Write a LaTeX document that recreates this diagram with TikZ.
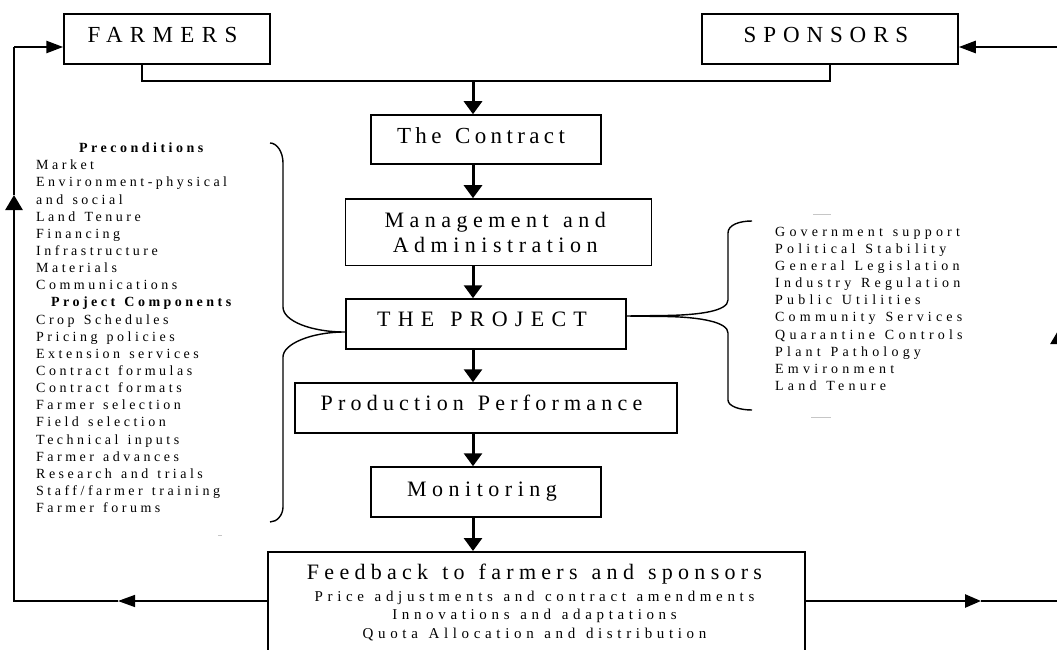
\documentclass[tikz,border=0pt]{standalone}
\usepackage{fontspec}
\setmainfont{Liberation Serif}[Ligatures=NoCommon]
\usetikzlibrary{arrows.meta}
\newdimen\lsws
\newcommand\lsfont[3]{\fontsize{#1}{#2}\selectfont\addfontfeatures{LetterSpace=#3}%
  \lsws=#3\fontdimen6\font\divide\lsws by 100\relax\advance\lsws by 0.4em\relax\spaceskip=\lsws\relax}
\newcommand\fixsp{\spaceskip=\lsws\relax}
\tikzset{
  box/.style={draw, line width=1.5pt, inner sep=0pt, align=center},
  conn/.style={line width=1.6pt},
  flowarrow/.style={line width=3pt, -{Triangle[length=13pt,width=18pt]}},
  thinloop/.style={line width=1.4pt},
  thickloop/.style={line width=2.6pt},
  harrow/.style={-{Triangle[length=17pt,width=12pt]}},
  varrow/.style={-{Triangle[length=15pt,width=17pt]}},
  brace/.style={line width=1.4pt},
  listtext/.style={anchor=base west, inner sep=0pt, align=left},
  artifact/.style={gray!45, line width=0.8pt}
}
\begin{document}
\begin{tikzpicture}[x=1pt,y=-1pt]
\useasboundingbox (0,0) rectangle (1057,650);
\fill[white] (0,0) rectangle (1057,650);
\clip (0,0) rectangle (1057,650);

% boxes
\node[box, minimum width=206pt, minimum height=50pt, text height=16pt, text depth=8pt, font={\lsfont{23}{27}{32}}] (farmers) at (167,39) {FARMERS\kern9pt};
\node[box, minimum width=256pt, minimum height=50pt, text height=16pt, text depth=8pt, font={\lsfont{23}{27}{30}}] (sponsors) at (830,39) {SPONSORS\kern8pt};
\node[box, minimum width=230pt, minimum height=49pt, text height=16pt, text depth=8.4pt, font={\lsfont{23}{27}{19}}] (contract) at (486,139.5) {The Contract\kern10pt};
\node[box, minimum width=306pt, minimum height=66.7pt, font={\lsfont{22}{25}{25}}] (mgmt) at (498.7,232.3) {Management and\kern7pt\\Administration\kern7pt};
\node[box, minimum width=280pt, minimum height=50pt, text height=16pt, text depth=10.6pt, font={\lsfont{22}{26}{33}}] (project) at (486,324) {THE PROJECT\kern8pt};
\node[box, minimum width=382pt, minimum height=50pt, text height=16pt, text depth=10.6pt, font={\lsfont{22}{26}{23.6}}] (production) at (486,408) {Production Performance\kern9pt};
\node[box, minimum width=230pt, minimum height=50pt, text height=16pt, text depth=8pt, font={\lsfont{22}{26}{25}}] (monitoring) at (486,492) {Monitoring\kern8pt};
\node[box, minimum width=537pt, minimum height=120pt, anchor=north] (fb) at (536.5,551) {};
\node[anchor=base, inner sep=0pt, font={\lsfont{22}{26}{24}}] (fbA) at (534.5,579) {Feedback to farmers and sponsors};
\node[anchor=base, inner sep=0pt, font={\lsfont{15}{19}{31}}] (fbB) at (534.5,601) {Price adjustments and contract amendments};
\node[anchor=base, inner sep=0pt, font={\lsfont{15}{19}{31}}] (fbC) at (534.5,619.5) {Innovations and adaptations};
\node[anchor=base, inner sep=0pt, font={\lsfont{15}{19}{31}}] (fbD) at (534.5,638) {Quota Allocation and distribution};

% lists
\node[listtext, text width=210pt, font={\lsfont{14}{17.14}{25}}] (pre) at (36,152.7) {\fixsp
\makebox[\linewidth][c]{\bfseries\fixsp Preconditions}\\
Market\\
Environment-physical\\
and social\\
Land Tenure\\
Financing\\
Infrastructure\\
Materials\\
Communications\\
\makebox[\linewidth][c]{\bfseries\fixsp Project Components}\\
Crop Schedules\\
Pricing policies\\
Extension services\\
Contract formulas\\
Contract formats\\
Farmer selection\\
Field selection\\
Technical inputs\\
Farmer advances\\
Research and trials\\
Staff/farmer training\\
Farmer forums};
\node[listtext, text width=220pt, font={\lsfont{14}{17.05}{30}}] (ext) at (775,236.7) {\fixsp
Government support\\
Political Stability\\
General Legislation\\
Industry Regulation\\
Public Utilities\\
Community Services\\
Quarantine Controls\\
Plant Pathology\\
Emvironment\\
Land Tenure};

% braces
\draw[brace] (270,143) .. controls (277,143) and (283,152) .. (283,163) -- (283,307)
  .. controls (283,321) and (311,332) .. (345,332)
  .. controls (311,332) and (283,344) .. (283,357) -- (283,507)
  .. controls (283,515) and (277,522) .. (270,522);
\draw[brace] (752,221) .. controls (739,221) and (728,225) .. (728,233) -- (728,300)
  .. controls (728,311) and (700,315) .. (665,315.5) -- (project.east |- 0,316) -- (665,316.5)
  .. controls (700,317) and (728,322) .. (728,333) -- (728,400)
  .. controls (728,406) and (739,410) .. (752,410);
\draw[artifact] (813,214) -- (831,214);
\draw[artifact] (811,417) -- (831,417);
\draw[artifact] (218,535) -- (222,535);

% top connector
\coordinate (spine) at (473,0);
\coordinate (fdrop) at (142,81);
\coordinate (sdrop) at (830,81);
\draw[conn] (farmers.south -| fdrop) -- (fdrop) -- (sdrop) -- (sponsors.south -| sdrop);

% main flow
\draw[flowarrow] (fdrop -| spine) -- (contract.north -| spine);
\draw[flowarrow] (contract.south -| spine) -- (mgmt.north -| spine);
\draw[flowarrow] (mgmt.south -| spine) -- (project.north -| spine);
\draw[flowarrow] (project.south -| spine) -- (production.north -| spine);
\draw[flowarrow] (production.south -| spine) -- (monitoring.north -| spine);
\draw[flowarrow] (monitoring.south -| spine) -- (fb.north -| spine);

% feedback loops
\coordinate (bl) at (14,601);
\coordinate (tl) at (14,47);
\coordinate (br) at (1059,601);
\coordinate (tr) at (1059,47);
\coordinate (lefttip) at (118,601);
\coordinate (uptipL) at (14,195);
\coordinate (righttip) at (981,601);
\coordinate (uptipR) at (1059,329);

\draw[thinloop, harrow] (bl -| fb.west) -- (lefttip);
\draw[thinloop] (lefttip) -- (bl);
\draw[thickloop, varrow, line cap=rect] (bl) -- (uptipL);
\draw[thinloop] (uptipL) -- (tl);
\draw[thickloop, harrow] (tl) -- (farmers.west |- tl);

\draw[thickloop, -{Triangle[length=16pt,width=13pt]}] (br -| fb.east) -- (righttip);
\draw[thinloop] (righttip) -- (br);
\draw[thickloop, varrow] (br) -- (uptipR);
\draw[thinloop] (uptipR) -- (tr);
\draw[thickloop, harrow] (tr) -- (sponsors.east |- tr);
\end{tikzpicture}
\end{document}
